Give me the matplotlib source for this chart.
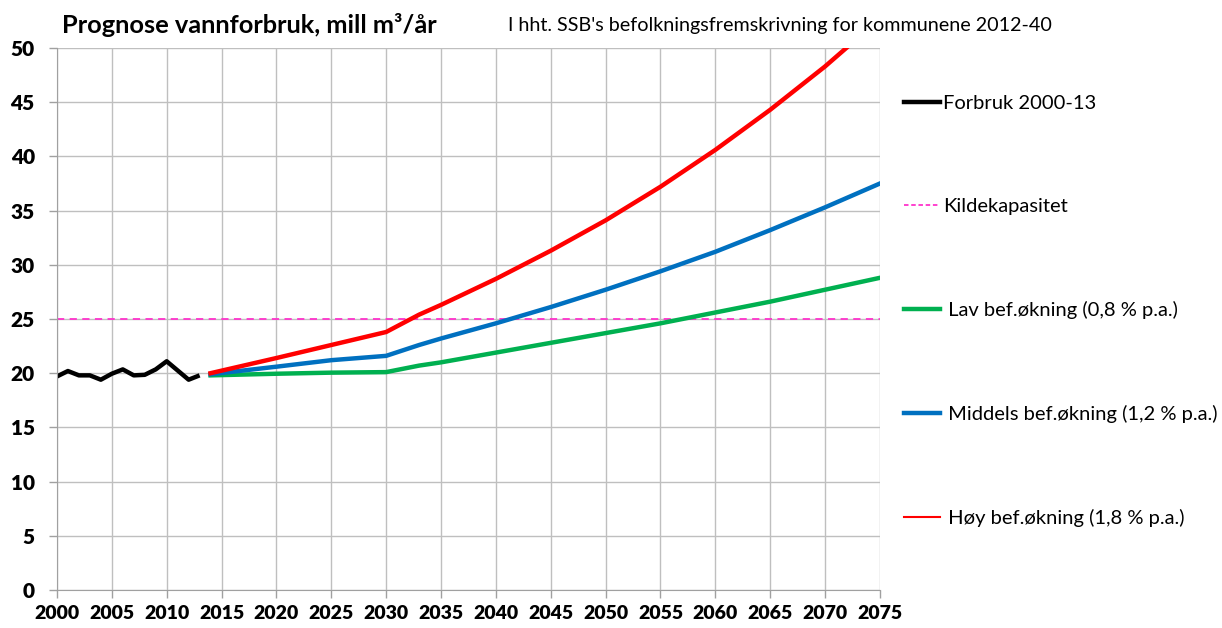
import matplotlib.pyplot as plt
from matplotlib.lines import Line2D

plt.rcParams['font.family'] = ['Lato', 'DejaVu Sans']

# Historisk forbruk
aar_hist = [2000, 2001, 2002, 2003, 2004, 2005, 2006, 2007, 2008, 2009, 2010, 2011, 2012, 2013]
forbruk = [19.7, 20.2, 19.8, 19.8, 19.4, 19.95, 20.35, 19.8, 19.85, 20.35, 21.1, 20.25, 19.4, 19.8]

# Prognoser
aar_prog = [2014, 2020, 2025, 2030, 2033, 2035, 2040, 2045, 2050, 2055, 2060, 2065, 2070, 2075]
lav = [19.8, 19.95, 20.05, 20.1, 20.7, 21.0, 21.9, 22.8, 23.7, 24.6, 25.6, 26.6, 27.7, 28.8]
middels = [19.9, 20.6, 21.2, 21.6, 22.6, 23.2, 24.6, 26.1, 27.7, 29.4, 31.2, 33.2, 35.3, 37.5]
hoy = [20.0, 21.4, 22.6, 23.8, 25.4, 26.3, 28.7, 31.3, 34.1, 37.2, 40.6, 44.3, 48.3, 52.7]

kildekapasitet = 25

x_ticks = list(range(2000, 2076, 5))
y_ticks = list(range(0, 51, 5))

fig = plt.figure(figsize=(12.22, 6.28), dpi=100)
ax = fig.add_axes([0.0466, 0.0605, 0.6735, 0.8631])

ax.plot(aar_hist, forbruk, color='black', lw=3.2, solid_capstyle='butt')
ax.axhline(kildekapasitet, color='#FF33CC', lw=1.3, ls=(0, (4, 3)))
ax.plot(aar_prog, lav, color='#00B050', lw=3.2)
ax.plot(aar_prog, middels, color='#0070C0', lw=3.2)
ax.plot(aar_prog, hoy, color='#FF0000', lw=3.2)

ax.set_xlim(2000, 2075)
ax.set_ylim(0, 50)
ax.tick_params(length=6, width=1, color='#A0A0A0', direction='out')
ax.tick_params(axis='x', pad=5)
ax.tick_params(axis='y', pad=10)
ax.set_xticks(x_ticks, labels=[str(t) for t in x_ticks], fontweight='heavy', fontsize=14)
ax.set_yticks(y_ticks, labels=[str(t) for t in y_ticks], fontweight='heavy', fontsize=15)
ax.grid(True, color='#BFBFBF', lw=1)
ax.set_axisbelow(True)
for s in ['top', 'right']:
    ax.spines[s].set_visible(False)
for s in ['left', 'bottom']:
    ax.spines[s].set_color('#A0A0A0')

fig.text(62 / 1222, 1 - 25 / 628, 'Prognose vannforbruk, mill m³/år', fontsize=18.3,
         fontweight='bold', va='center', ha='left')
fig.text(508 / 1222, 1 - 25 / 628, "I hht. SSB's befolkningsfremskrivning for kommunene 2012-40",
         fontsize=14.2, va='center', ha='left')

handles = [
    Line2D([], [], color='black', lw=3.2),
    Line2D([], [], color='#FF33CC', lw=1.3, ls=(0, (2.5, 1.5))),
    Line2D([], [], color='#00B050', lw=3.2),
    Line2D([], [], color='#0070C0', lw=3.2),
    Line2D([], [], color='#FF0000', lw=1.5),
]
labels = ['Forbruk 2000-13', 'Kildekapasitet', ' Lav bef.økning (0,8 % p.a.)',
          ' Middels bef.økning (1,2 % p.a.)', ' Høy bef.økning (1,8 % p.a.)']
fig.legend(handles, labels, loc='upper left', bbox_to_anchor=(904 / 1222, 1 - 95 / 628),
           frameon=False, fontsize=14.5, handlelength=1.8, handletextpad=0.12,
           labelspacing=4.27, borderaxespad=0, borderpad=0)

fig.savefig('out.png', dpi=100)
